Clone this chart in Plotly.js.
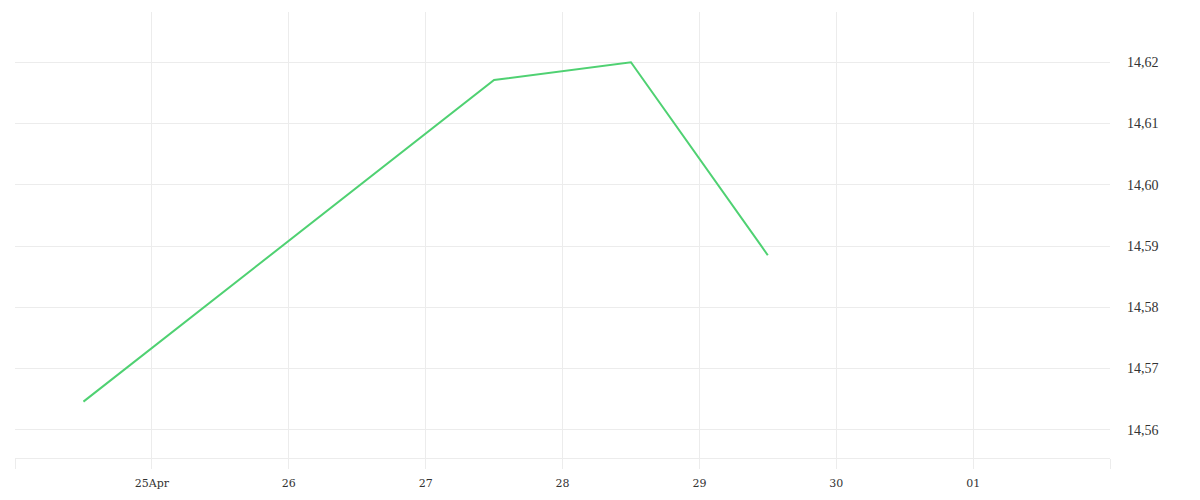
<!DOCTYPE html>
<html>
<head>
<meta charset="utf-8">
<script src="https://cdn.plot.ly/plotly-3.0.1.min.js"></script>
<style>
  html, body { margin: 0; padding: 0; background: #fff; }
  #chart { width: 1200px; height: 500px; }
</style>
</head>
<body>
<div id="chart"></div>
<script>
// price points, one per trading day (midday)
var dates = ['2024-04-24 12:00', '2024-04-25 12:00', '2024-04-26 12:00',
             '2024-04-27 12:00', '2024-04-28 12:00', '2024-04-29 12:00'];
var prices = [14.5646, 14.5821, 14.5997, 14.6171, 14.6200, 14.5885];

// day ticks along the bottom
var tickDates = ['2024-04-24', '2024-04-25', '2024-04-26', '2024-04-27', '2024-04-28',
                 '2024-04-29', '2024-04-30', '2024-05-01', '2024-05-02'];
var tickLabels = ['', '25Apr', '26', '27', '28', '29', '30', '01', ''];

var trace1 =
{
    x: dates,
    y: prices,
    type: 'scatter',
    mode: 'lines',
    line: {color: '#4fd172', width: 2},
    hoverinfo: 'skip'
};

var layout =
{
    width: 1200,
    height: 500,
    paper_bgcolor: '#ffffff',
    plot_bgcolor: '#ffffff',
    showlegend: false,
    separators: ',.',
    margin: {l: 15, r: 90, t: 12, b: 42},
    xaxis: {
        type: 'date',
        range: ['2024-04-24', '2024-05-02'],
        tickmode: 'array',
        tickvals: tickDates,
        ticktext: tickLabels,
        showgrid: true, gridcolor: '#ececec', gridwidth: 1,
        showline: true, linecolor: '#ececec', linewidth: 1,
        ticks: 'outside', ticklen: 10, tickcolor: '#ececec', tickwidth: 1,
        ticklabelstandoff: 5,
        zeroline: false,
        tickfont: {family: 'DejaVu Serif', size: 11, color: '#333333'}
    },
    yaxis: {
        side: 'right',
        range: [14.5554, 14.6282],
        dtick: 0.01,
        tick0: 14.56,
        tickformat: '.2f',
        showgrid: true, gridcolor: '#ececec', gridwidth: 1,
        showline: false,
        ticks: '',
        ticklabelstandoff: 16,
        zeroline: false,
        tickfont: {family: 'Liberation Serif', size: 14, color: '#333333'}
    }
};

Plotly.newPlot('chart', [trace1], layout, {displayModeBar: false, staticPlot: true});
</script>
</body>
</html>
